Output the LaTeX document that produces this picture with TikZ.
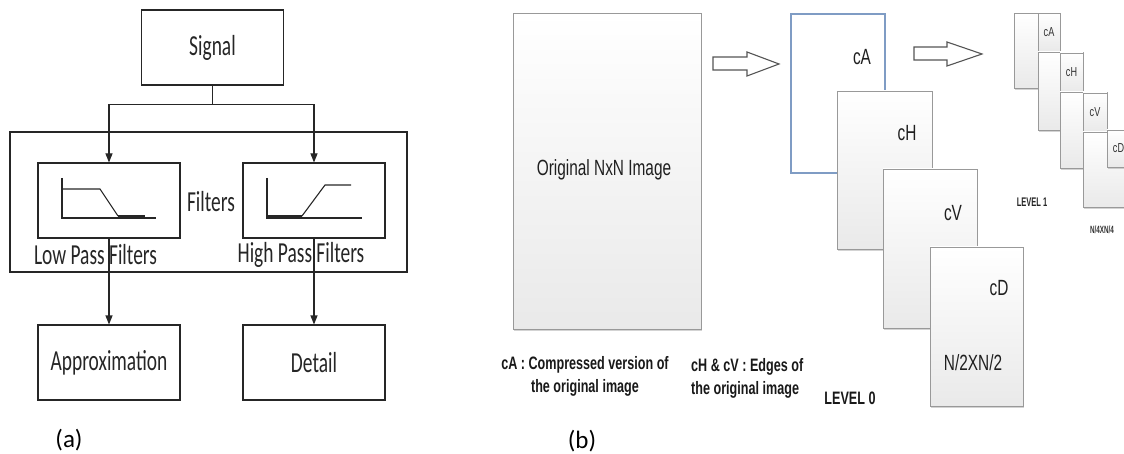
\documentclass[tikz,border=0pt]{standalone}
\usepackage{fontspec}
\setmainfont{Carlito}
\newfontfamily\calnar[FakeStretch=0.67]{Carlito}
\newfontfamily\arnar[FakeStretch=0.7]{Liberation Sans}
\newfontfamily\arsmall[FakeStretch=0.6]{Liberation Sans}
\usetikzlibrary{arrows.meta,shadows,calc}
\definecolor{edgeblue}{HTML}{7F9CC4}
\definecolor{hollowgray}{HTML}{555555}

\tikzset{
  blk/.style={draw=black!85, line width=1.1pt, inner sep=0pt,
    minimum width=142, minimum height=75,
    font=\calnar\fontsize{29}{32}\selectfont, text=black!85},
  lbl/.style={inner sep=0pt, font=\calnar\fontsize{29}{32}\selectfont, text=black!85},
  flow/.style={draw=black!85, line width=1.1pt, -{Triangle[length=9pt,width=7pt]}},
  axis/.style={draw=black!85, line width=1.1pt},
  pass/.style={draw=black!85, line width=2.2pt},
  tile/.style={draw=gray!80, line width=0.9pt, inner sep=0pt,
    top color=white, bottom color=gray!17,
    drop shadow={shadow xshift=1.2pt, shadow yshift=-1.6pt, opacity=0.35}},
  hollow/.style={draw=hollowgray, line width=1.1pt, fill=white, line join=miter},
  big/.style={inner sep=0pt, font=\arnar\fontsize{22}{24}\selectfont, text=black!88},
  note/.style={inner sep=0pt, font=\arnar\bfseries\fontsize{18}{23}\selectfont, text=black!90},
  tiny/.style={inner sep=0pt, font=\arnar\fontsize{13}{15}\selectfont, text=black!80},
  tag/.style={inner sep=0pt, font=\fontsize{25}{28}\selectfont, text=black}
}

\begin{document}
\begin{tikzpicture}[x=1pt,y=-1pt]
\useasboundingbox (0,0) rectangle (1124,454);
\clip (0,0) rectangle (1124,454);

% ---------- (a) filter bank ----------
\node[blk] (sig) at (212.5,47.5) {Signal};
\node[draw=black!85, line width=1.1pt, minimum width=397, minimum height=140, inner sep=0pt] (bank) at (208.5,202) {};
\node[lbl] (fl) at (211,202) {Filters};
\node[blk] (lpf) at (109,200.5) {};
\node[blk] (hpf) at (314,200.5) {};
\node[lbl] (lpfl) at (95.5,255) {Low Pass Filters};
\node[lbl] (hpfl) at (301,255) {High Pass Filters};
\node[blk] (app) at (109,362.5) {Approximation};
\node[blk] (det) at (314,362.5) {Detail};
\node[tag] (ta) at (69,440) {(a)};

% low-pass response
\begin{scope}[shift={(lpf.center)}]
  \draw[axis] (-47,-22.5) -- (-47,17.5) -- (47,17.5);
  \draw[axis] (-47,-11.5) -- (-9,-11.5) -- (9,15.5);
  \draw[pass] (9,15.5) -- (36,15.5);
\end{scope}
% high-pass response
\begin{scope}[shift={(hpf.center)}]
  \draw[axis] (-47,-22.5) -- (-47,17.5) -- (48,17.5);
  \draw[pass] (-47,15.5) -- (-12,15.5);
  \draw[axis] (-12,15.5) -- (11,-15.5) -- (37,-15.5);
\end{scope}

\draw[axis] (sig.south) -- ++(0,19) coordinate (split);
\draw[flow] (split) -| (lpf.north);
\draw[flow] (split) -| (hpf.north);
\draw[flow] (lpf.south) -- (app.north);
\draw[flow] (hpf.south) -- (det.north);

% ---------- (b) wavelet decomposition ----------
\node[tile, minimum width=188, minimum height=316] (orig) at (607,171) {};
\node[big] (origl) at (604,170) {Original NxN Image};

\draw[hollow] (713,57) -- (747,57) -- (747,52) -- (779,64) -- (747,76) -- (747,70) -- (713,70) -- cycle;

% level 0 sub-bands
\node[draw=edgeblue, line width=1.3pt, fill=white, minimum width=94, minimum height=159, inner sep=0pt] (ca0) at (838,93.5) {};
\node[tile, minimum width=95, minimum height=158] (ch0) at (884.5,170) {};
\node[tile, minimum width=94, minimum height=159] (cv0) at (930,248.5) {};
\node[tile, minimum width=93, minimum height=159] (cd0) at (976.5,326.5) {};
\node[big] (cal) at (862,57) {cA};
\node[big] (chl) at (907,133) {cH};
\node[big] (cvl) at (953,213) {cV};
\node[big] (cdl) at (999,288) {cD};
\node[big] (sz0) at (973,363) {N/2XN/2};

\draw[hollow] (914,47) -- (947,47) -- (947,42) -- (982,54) -- (947,66) -- (947,60) -- (914,60) -- cycle;

% level 1 sub-bands
\node[tile, minimum width=46, minimum height=75] (r1) at (1037,50.5) {};
\node[tile, minimum width=22, minimum height=38] (sa) at (1049,32) {};
\node[tile, minimum width=45, minimum height=78] (r2) at (1060.5,91) {};
\node[tile, minimum width=23, minimum height=39] (sh) at (1071.5,72.5) {};
\node[tile, minimum width=47, minimum height=76] (r3) at (1083.5,130) {};
\node[tile, minimum width=24, minimum height=39] (sv) at (1095,112.5) {};
\node[tile, minimum width=47, minimum height=75] (r4) at (1106.5,169.5) {};
\node[tile, minimum width=23, minimum height=37] (sd) at (1118.5,148.5) {};
\node[tiny] at (sa) {cA};
\node[tiny] at (sh) {cH};
\node[tiny] at (sv) {cV};
\node[tiny] at (sd) {cD};

% captions
\node[note, align=center] (capa) at (585,376) {cA : Compressed version of\\the original image};
\node[note, align=left, anchor=west] (caph) at (691,378) {cH \& cV : Edges of\\the original image};
\node[note] (lv0) at (850,398) {LEVEL 0};
\node[inner sep=0pt, font=\arsmall\bfseries\fontsize{12.5}{14}\selectfont, text=black!85] (lv1) at (1032,202) {LEVEL 1};
\node[inner sep=0pt, font=\arsmall\bfseries\fontsize{10.5}{12}\selectfont, text=black!80] (sz1) at (1102,230) {N/4XN/4};
\node[tag] (tb) at (582,441) {(b)};
\end{tikzpicture}
\end{document}
